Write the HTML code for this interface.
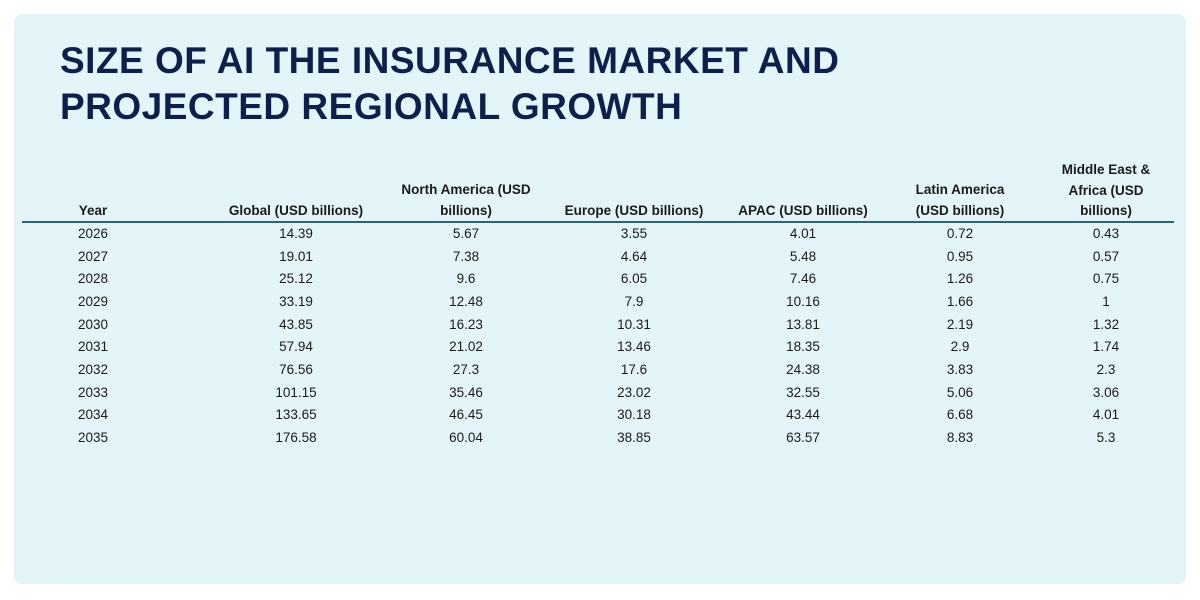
<!DOCTYPE html>
<html><head><meta charset="utf-8"><style>
body{margin:0;width:1200px;height:600px;background:#fff;font-family:"Liberation Sans",sans-serif;position:relative;overflow:hidden}
.card{position:absolute;left:14px;top:14px;width:1172px;height:570px;background:#e4f5fa;border-radius:8px}
h1{position:absolute;left:60px;top:38px;margin:0;font-size:37px;line-height:46px;color:#0f1f4b;font-weight:bold;letter-spacing:0.5px}
.h{position:absolute;font-size:13.5px;font-weight:bold;color:#1a1a1a;text-align:center;line-height:20.5px;transform:translateX(-50%);white-space:nowrap}
.c{position:absolute;font-size:13.5px;color:#1a1a1a;transform:translateX(-50%);white-space:nowrap;line-height:16px}
.line{position:absolute;left:22px;top:221px;width:1152px;height:1.5px;background:#2d6470}
</style></head><body>
<div class="card"></div>
<h1>SIZE OF AI THE INSURANCE MARKET AND<br>PROJECTED REGIONAL GROWTH</h1>
<div class="h" style="left:93px;top:201px">Year</div>
<div class="h" style="left:296px;top:201px">Global (USD billions)</div>
<div class="h" style="left:466px;top:180px">North America (USD<br>billions)</div>
<div class="h" style="left:634px;top:201px">Europe (USD billions)</div>
<div class="h" style="left:803px;top:201px">APAC (USD billions)</div>
<div class="h" style="left:960px;top:180px">Latin America<br>(USD billions)</div>
<div class="h" style="left:1106px;top:160px">Middle East &amp;<br>Africa (USD<br>billions)</div>
<div class="line"></div>
<div id="rows"></div>
<script>
var d=[["2026","14.39","5.67","3.55","4.01","0.72","0.43"],["2027","19.01","7.38","4.64","5.48","0.95","0.57"],["2028","25.12","9.6","6.05","7.46","1.26","0.75"],["2029","33.19","12.48","7.9","10.16","1.66","1"],["2030","43.85","16.23","10.31","13.81","2.19","1.32"],["2031","57.94","21.02","13.46","18.35","2.9","1.74"],["2032","76.56","27.3","17.6","24.38","3.83","2.3"],["2033","101.15","35.46","23.02","32.55","5.06","3.06"],["2034","133.65","46.45","30.18","43.44","6.68","4.01"],["2035","176.58","60.04","38.85","63.57","8.83","5.3"]];
var xs=[93,296,466,634,803,960,1106],h="";
d.forEach(function(r,i){r.forEach(function(v,j){h+='<div class="c" style="left:'+xs[j]+'px;top:'+(226+i*22.67)+'px">'+v+'</div>';});});
document.getElementById("rows").innerHTML=h;
</script>
</body></html>
